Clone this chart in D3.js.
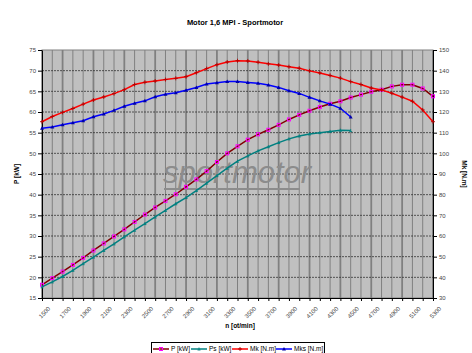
<!DOCTYPE html>
<html>
<head>
<meta charset="utf-8">
<script src="https://cdn.jsdelivr.net/npm/d3@7"></script>
<style>
  body { margin: 0; background: #fff; }
  svg { font-family: "Liberation Sans", Arial, sans-serif; }
  .axis text { font-size: 6px; fill: #444; }
  .axis path, .axis line { stroke: #000; stroke-width: 1; }
  .title { font-size: 7.5px; font-weight: bold; }
  .axis-title { font-size: 6.5px; font-weight: bold; }
  .legend text { font-size: 6.5px; }
</style>
</head>
<body>
<div id="chart"></div>
<script>
// rpm categories (every 100 ot/min)
var rpm = [1500, 1600, 1700, 1800, 1900, 2000, 2100, 2200, 2300, 2400,
           2500, 2600, 2700, 2800, 2900, 3000, 3100, 3200, 3300, 3400,
           3500, 3600, 3700, 3800, 3900, 4000, 4100, 4200, 4300, 4400,
           4500, 4600, 4700, 4800, 4900, 5000, 5100, 5200, 5300];

var rpmLabels = [1500, 1700, 1900, 2100, 2300, 2500, 2700, 2900, 3100, 3300,
                 3500, 3700, 3900, 4100, 4300, 4500, 4700, 4900, 5100, 5300];

// power, sport engine [kW]
var pValues = [18.2, 19.8, 21.4, 23.0, 24.7, 26.5, 28.2, 29.9, 31.6, 33.4,
               35.2, 36.9, 38.5, 40.1, 41.9, 43.7, 45.7, 47.9, 50.0, 51.7,
               53.3, 54.6, 55.7, 56.9, 58.2, 59.3, 60.3, 61.2, 62.0, 62.6,
               63.5, 64.2, 64.9, 65.4, 66.2, 66.6, 66.6, 65.7, 63.8];

// power, stock engine [kW]
var psValues = [17.7, 18.9, 20.2, 21.7, 23.3, 24.9, 26.5, 28.1, 29.8, 31.4,
                33.0, 34.6, 36.2, 37.8, 39.3, 41.0, 42.8, 44.6, 46.4, 48.1,
                49.4, 50.6, 51.6, 52.6, 53.5, 54.2, 54.7, 55.0, 55.3, 55.6,
                55.5];

// torque, sport engine [N.m]
var mkValues = [115.3, 117.8, 119.8, 121.7, 123.8, 125.8, 127.3, 128.9, 130.8, 133.3,
                134.4, 135.0, 135.7, 136.3, 137.1, 139.0, 141.0, 142.9, 144.2, 144.8,
                144.7, 144.1, 143.3, 142.7, 141.9, 141.2, 139.9, 138.9, 137.7, 136.4,
                134.7, 133.3, 131.6, 130.7, 129.1, 127.2, 125.2, 121.0, 115.3];

// torque, stock engine [N.m]
var mksValues = [112.1, 112.7, 113.8, 114.8, 115.8, 117.7, 119.0, 120.8, 122.8, 124.2,
                 125.4, 127.4, 128.6, 129.3, 130.5, 131.9, 133.5, 134.2, 134.8, 134.7,
                 134.3, 133.9, 133.1, 131.9, 130.3, 129.0, 127.1, 125.4, 123.8, 121.8,
                 117.6];

var leftTicks = [15, 20, 25, 30, 35, 40, 45, 50, 55, 60, 65, 70, 75];
var rightTicks = [30, 40, 50, 60, 70, 80, 90, 100, 110, 120, 130, 140, 150];

var series = [
    { name: "P [kW]", values: pValues, axis: "left", line: "#800000", marker: "square", mcolor: "#ff00ff" },
    { name: "Ps [kW]", values: psValues, axis: "left", line: "#008080", marker: "tick", mcolor: "#008080" },
    { name: "Mk [N.m]", values: mkValues, axis: "right", line: "#ff0000", marker: "plus", mcolor: "#b00000" },
    { name: "Mks [N.m]", values: mksValues, axis: "right", line: "#0000ff", marker: "triangle", mcolor: "#0000aa" }
];

var W = 472, H = 353;
var margin = { top: 50, right: 39, bottom: 55, left: 42 };
var width = W - margin.left - margin.right;
var height = H - margin.top - margin.bottom;

var svg = d3.select("#chart").append("svg")
    .attr("width", W)
    .attr("height", H);

svg.append("text")
    .attr("class", "title")
    .attr("x", 235)
    .attr("y", 25)
    .attr("text-anchor", "middle")
    .text("Motor 1,6 MPI - Sportmotor");

var g = svg.append("g")
    .attr("transform", "translate(" + margin.left + "," + margin.top + ")");

var x = d3.scalePoint().domain(rpm).range([0, width]);
var yL = d3.scaleLinear().domain([15, 75]).range([height, 0]);
var yR = d3.scaleLinear().domain([30, 150]).range([height, 0]);

// plot area
g.append("rect")
    .attr("width", width)
    .attr("height", height)
    .attr("fill", "#c0c0c0")
    .attr("stroke", "#808080");

// vertical grid
g.selectAll(".vgrid")
    .data(rpm)
    .enter().append("line")
    .attr("class", "vgrid")
    .attr("x1", function(d) { return x(d); })
    .attr("x2", function(d) { return x(d); })
    .attr("y1", 0)
    .attr("y2", height)
    .attr("stroke", "#808080")
    .attr("stroke-width", function(d, i) { return i % 3 === 2 ? 1.8 : 1; });

// horizontal grid
g.selectAll(".hgrid")
    .data(leftTicks.slice(1, -1))
    .enter().append("line")
    .attr("class", "hgrid")
    .attr("x1", 0)
    .attr("x2", width)
    .attr("y1", function(d) { return yL(d); })
    .attr("y2", function(d) { return yL(d); })
    .attr("stroke", "#333")
    .attr("stroke-width", 0.8)
    .attr("stroke-dasharray", "2,1");

// watermark
g.append("text")
    .attr("x", 121)
    .attr("y", 133)
    .attr("font-size", "31px")
    .attr("font-style", "italic")
    .attr("fill", "#8c8c8c")
    .text("sportmotor");
g.append("line")
    .attr("x1", 122).attr("x2", 258)
    .attr("y1", 139).attr("y2", 139)
    .attr("stroke", "#8c8c8c")
    .attr("stroke-width", 2);

// axes
var xAxis = d3.axisBottom(x)
    .tickSizeInner(3)
    .tickSizeOuter(0)
    .tickFormat(function(d) { return rpmLabels.indexOf(d) >= 0 ? d : ""; });

var gx = g.append("g")
    .attr("class", "axis")
    .attr("transform", "translate(0," + height + ")")
    .call(xAxis);
gx.selectAll(".tick text")
    .attr("text-anchor", "end")
    .attr("dx", 0)
    .attr("dy", 0)
    .attr("transform", "translate(4,7) rotate(-45)");

g.append("g")
    .attr("class", "axis")
    .call(d3.axisLeft(yL).tickValues(leftTicks).tickSizeInner(4).tickSizeOuter(0).tickPadding(2));

g.append("g")
    .attr("class", "axis")
    .attr("transform", "translate(" + width + ",0)")
    .call(d3.axisRight(yR).tickValues(rightTicks).tickSizeInner(4).tickSizeOuter(0).tickPadding(2));

// axis titles
svg.append("text")
    .attr("class", "axis-title")
    .attr("text-anchor", "middle")
    .attr("transform", "translate(19," + (margin.top + height / 2) + ") rotate(-90)")
    .text("P [kW]");

svg.append("text")
    .attr("class", "axis-title")
    .attr("text-anchor", "middle")
    .attr("transform", "translate(462," + (margin.top + height / 2) + ") rotate(90)")
    .text("Mk [N.m]");

svg.append("text")
    .attr("class", "axis-title")
    .attr("text-anchor", "middle")
    .attr("x", 240)
    .attr("y", 328)
    .text("n [ot/min]");

// markers
function drawMarker(sel, type, color) {
    if (type === "square") {
        sel.append("rect").attr("x", -1.5).attr("y", -1.5).attr("width", 3).attr("height", 3)
            .attr("fill", "none").attr("stroke", color).attr("stroke-width", 1);
    } else if (type === "plus") {
        sel.append("path").attr("d", "M-2,0H2M0,-2V2")
            .attr("stroke", color).attr("stroke-width", 0.9);
    } else if (type === "triangle") {
        sel.append("path").attr("d", "M0,-2L2,1.5L-2,1.5Z")
            .attr("fill", color).attr("stroke", "none");
    } else {
        sel.append("path").attr("d", "M-1.5,1H1.5M0,1V-1.5")
            .attr("stroke", color).attr("stroke-width", 0.9);
    }
}

series.forEach(function(s) {
    var y = s.axis === "left" ? yL : yR;
    var pts = s.values.map(function(v, i) { return [x(rpm[i]), y(v)]; });

    g.append("path")
        .datum(pts)
        .attr("fill", "none")
        .attr("stroke", s.line)
        .attr("stroke-width", 1.5)
        .attr("d", d3.line());

    g.selectAll(null)
        .data(pts)
        .enter().append("g")
        .attr("transform", function(d) { return "translate(" + d[0] + "," + d[1] + ")"; })
        .each(function() { drawMarker(d3.select(this), s.marker, s.mcolor); });
});

// legend
var legend = svg.append("g").attr("class", "legend");
legend.append("rect")
    .attr("x", 151.5).attr("y", 342.5)
    .attr("width", 173).attr("height", 14)
    .attr("fill", "#fff")
    .attr("stroke", "#000");

var legendX = [153, 191, 232, 276];
series.forEach(function(s, i) {
    var item = legend.append("g").attr("transform", "translate(" + legendX[i] + ",349)");
    item.append("line").attr("x1", 0).attr("x2", 16).attr("y1", 0).attr("y2", 0)
        .attr("stroke", s.line).attr("stroke-width", 1.5);
    var m = item.append("g").attr("transform", "translate(8,0)");
    drawMarker(m, s.marker, s.mcolor);
    item.append("text").attr("x", 18).attr("y", 2.3).text(s.name);
});
</script>
</body>
</html>
